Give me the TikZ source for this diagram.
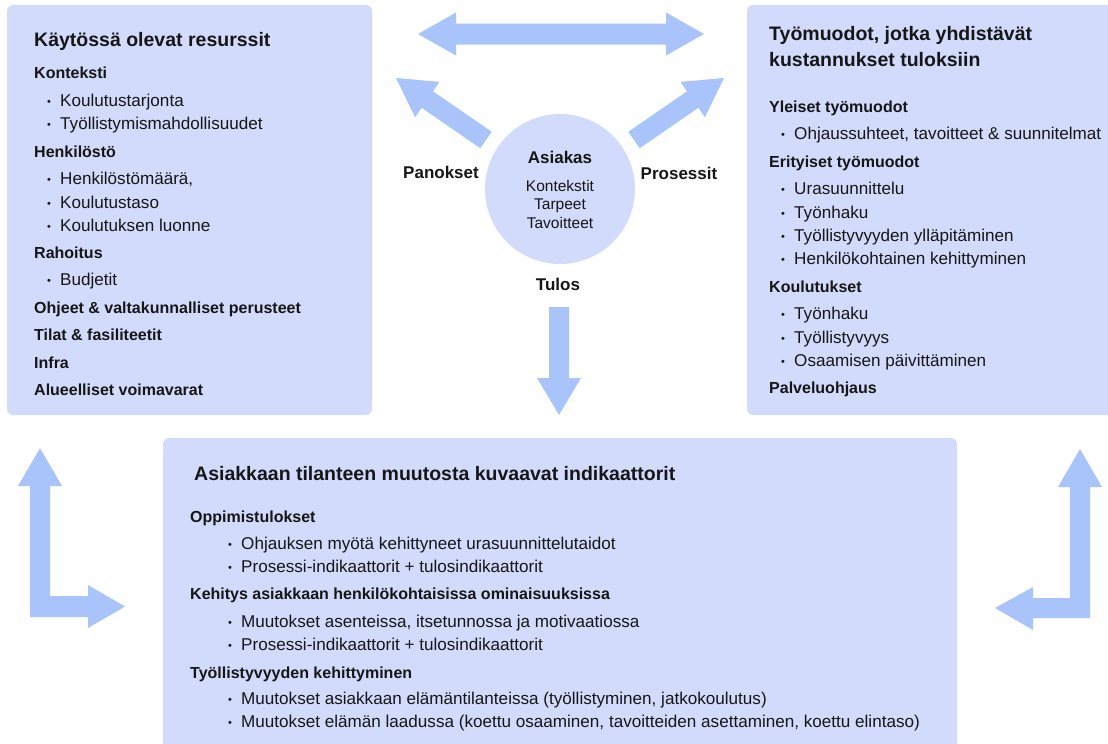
\documentclass[tikz,border=0pt]{standalone}
\usepackage{fontspec}
\setmainfont{Liberation Sans}
\usetikzlibrary{calc}
\definecolor{boxfill}{RGB}{211,219,253}
\definecolor{arrowc}{RGB}{168,196,250}
\definecolor{ink}{RGB}{22,22,22}
\newcommand{\bul}{\makebox[13pt][l]{\fontsize{11}{11}\selectfont\raisebox{1pt}{•}}}
\begin{document}
\begin{tikzpicture}[x=1pt,y=-1pt,
  panel/.style={fill=boxfill, rounded corners=6pt},
  bigarrow/.style={fill=arrowc},
  ttl/.style={anchor=base west, inner sep=0, text=ink, font=\fontsize{19.5}{24}\selectfont\bfseries},
  hd/.style={anchor=base west, inner sep=0, text=ink, font=\fontsize{16}{19}\selectfont\bfseries},
  itm/.style={anchor=base west, inner sep=0, text=ink, font=\fontsize{17.1}{20}\selectfont},
  lbl/.style={anchor=base, inner sep=0, text=ink, font=\fontsize{17}{20}\selectfont\bfseries},
  ctr/.style={anchor=base, inner sep=0, text=ink, font=\fontsize{15.5}{18}\selectfont},
]
\useasboundingbox (0,0) rectangle (1108,744);

% panels
\fill[panel] (7,5) rectangle (372,415);
\fill[panel] (747,5) rectangle (1116,415);
\fill[panel] (163,438) rectangle (957,752);

% client circle
\node[circle, fill=boxfill, minimum size=150pt, inner sep=0] (client) at (560,189) {};
\node[lbl] (asiakas) at (560,163) {Asiakas};
\node[ctr] (c1) at (560,191) {Kontekstit};
\node[ctr] (c2) at (560,209) {Tarpeet};
\node[ctr] (c3) at (560,228) {Tavoitteet};

\node[lbl] (panokset) at (441,178) {Panokset};
\node[lbl] (prosessit) at (679,179) {Prosessit};
\node[lbl] (tulos) at (558,290) {Tulos};

% top double arrow
\fill[bigarrow] (418,34) -- (456,12.5) -- (456,23.5) -- (666,23.5) -- (666,12.5) -- (704,34)
  -- (666,55.5) -- (666,44.5) -- (456,44.5) -- (456,55.5) -- cycle;

% diagonal arrows
\coordinate (pA) at (486,140); \coordinate (pB) at (396,78);
\coordinate (pH) at ($(pA)!0.652!(pB)$);
\fill[bigarrow] ($(pA)!10pt!90:(pB)$) -- ($(pH)!10pt!90:(pB)$) -- ($(pH)!21.5pt!90:(pB)$) -- (pB)
  -- ($(pH)!21.5pt!-90:(pB)$) -- ($(pH)!10pt!-90:(pB)$) -- ($(pA)!10pt!-90:(pB)$) -- cycle;
\coordinate (qA) at (634,140); \coordinate (qB) at (724,78);
\coordinate (qH) at ($(qA)!0.652!(qB)$);
\fill[bigarrow] ($(qA)!10pt!90:(qB)$) -- ($(qH)!10pt!90:(qB)$) -- ($(qH)!21.5pt!90:(qB)$) -- (qB)
  -- ($(qH)!21.5pt!-90:(qB)$) -- ($(qH)!10pt!-90:(qB)$) -- ($(qA)!10pt!-90:(qB)$) -- cycle;

% down arrow
\fill[bigarrow] (549,307) -- (569,307) -- (569,378) -- (581,378) -- (559,415) -- (537,378) -- (549,378) -- cycle;

% left L arrow
\fill[bigarrow] (40,448) -- (62,486) -- (50,486) -- (50,596) -- (88,596) -- (88,585) -- (125,606.5)
  -- (88,628) -- (88,617) -- (30,617) -- (30,486) -- (18,486) -- cycle;
% right L arrow
\fill[bigarrow] (1080,449) -- (1102,487) -- (1090,487) -- (1090,618) -- (1033,618) -- (1033,630)
  -- (995,608) -- (1033,587) -- (1033,598) -- (1070,598) -- (1070,487) -- (1058,487) -- cycle;

% left panel text
\node[ttl] (lt) at (34,46) {Käytössä olevat resurssit};
\node[hd] (l1) at (34,78) {Konteksti};
\node[itm] (l2) at (47,106) {\bul Koulutustarjonta};
\node[itm] (l3) at (47,129) {\bul Työllistymismahdollisuudet};
\node[hd] (l4) at (34,157) {Henkilöstö};
\node[itm] (l5) at (47,184) {\bul Henkilöstömäärä,};
\node[itm] (l6) at (47,208) {\bul Koulutustaso};
\node[itm] (l7) at (47,231) {\bul Koulutuksen luonne};
\node[hd] (l8) at (34,258) {Rahoitus};
\node[itm] (l9) at (47,285) {\bul Budjetit};
\node[hd] (l10) at (34,313) {Ohjeet \& valtakunnalliset perusteet};
\node[hd] (l11) at (34,340) {Tilat \& fasiliteetit};
\node[hd] (l12) at (34,368) {Infra};
\node[hd] (l13) at (34,395) {Alueelliset voimavarat};

% right panel text
\node[ttl] (rt1) at (769,40) {Työmuodot, jotka yhdistävät};
\node[ttl] (rt2) at (769,66) {kustannukset tuloksiin};
\node[hd] (r1) at (769,112) {Yleiset työmuodot};
\node[itm] (r2) at (781,139) {\bul Ohjaussuhteet, tavoitteet \& suunnitelmat};
\node[hd] (r3) at (769,167) {Erityiset työmuodot};
\node[itm] (r4) at (781,194) {\bul Urasuunnittelu};
\node[itm] (r5) at (781,218) {\bul Työnhaku};
\node[itm] (r6) at (781,241) {\bul Työllistyvyyden ylläpitäminen};
\node[itm] (r7) at (781,264) {\bul Henkilökohtainen kehittyminen};
\node[hd] (r8) at (769,292) {Koulutukset};
\node[itm] (r9) at (781,319) {\bul Työnhaku};
\node[itm] (r10) at (781,343) {\bul Työllistyvyys};
\node[itm] (r11) at (781,366) {\bul Osaamisen päivittäminen};
\node[hd] (r12) at (769,393) {Palveluohjaus};

% bottom panel text
\node[ttl] (bt) at (194,480) {Asiakkaan tilanteen muutosta kuvaavat indikaattorit};
\node[hd] (b1) at (190,522) {Oppimistulokset};
\node[itm] (b2) at (228,549) {\bul Ohjauksen myötä kehittyneet urasuunnittelutaidot};
\node[itm] (b3) at (228,572) {\bul Prosessi-indikaattorit + tulosindikaattorit};
\node[hd] (b4) at (190,599) {Kehitys asiakkaan henkilökohtaisissa ominaisuuksissa};
\node[itm] (b5) at (228,627) {\bul Muutokset asenteissa, itsetunnossa ja motivaatiossa};
\node[itm] (b6) at (228,650) {\bul Prosessi-indikaattorit + tulosindikaattorit};
\node[hd] (b7) at (190,678) {Työllistyvyyden kehittyminen};
\node[itm] (b8) at (228,704) {\bul Muutokset asiakkaan elämäntilanteissa (työllistyminen, jatkokoulutus)};
\node[itm] (b9) at (228,727) {\bul Muutokset elämän laadussa (koettu osaaminen, tavoitteiden asettaminen, koettu elintaso)};
\end{tikzpicture}
\end{document}
